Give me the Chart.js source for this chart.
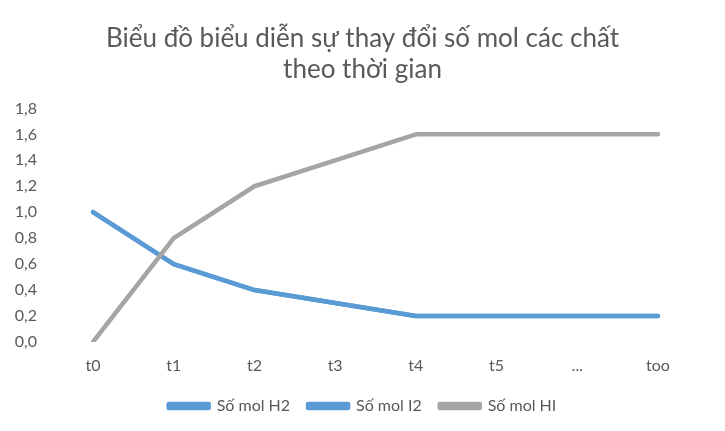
<!DOCTYPE html>
<html>
<head>
<meta charset="utf-8">
<script src="https://cdn.jsdelivr.net/npm/chart.js@4"></script>
<style>
html,body{margin:0;padding:0;background:#fff;}
#wrap{width:725px;height:431px;}
</style>
</head>
<body>
<div id="wrap"><canvas id="c" width="725" height="431"></canvas></div>
<script>
const categories = ["t0","t1","t2","t3","t4","t5","...","too"];
const molH2 = [1.0, 0.6, 0.4, 0.3, 0.2, 0.2, 0.2, 0.2];
const molI2 = [1.0, 0.6, 0.4, 0.3, 0.2, 0.2, 0.2, 0.2];
const molHI = [0.0, 0.8, 1.2, 1.4, 1.6, 1.6, 1.6, 1.6];
const seriesNames = ["Số mol H2","Số mol I2","Số mol HI"];
const titleLines = ["Biểu đồ biểu diễn sự thay đổi số mol các chất","theo thời gian"];

const BLUE = "#5B9BD5", GRAY = "#A5A5A5", TXT = "#595959";
const FONT = "Lato";

function ds(label, data, color, order){
  return {label, data, borderColor: color, backgroundColor: color, borderWidth: 4.5,
    pointRadius: 0, pointHoverRadius: 0, tension: 0, borderCapStyle: 'round',
    borderJoinStyle: 'round', order, yAxisID: 'y'};
}

new Chart(document.getElementById('c'), {
  type: 'line',
  data: {
    labels: categories,
    datasets: [
      ds(seriesNames[0], molH2, BLUE, 2),
      ds(seriesNames[1], molI2, BLUE, 1),
      ds(seriesNames[2], molHI, GRAY, 0)
    ]
  },
  options: {
    responsive: false,
    animation: false,
    layout: {padding: {left: 0, right: 0, top: 0, bottom: 7}},
    plugins: {
      tooltip: {enabled: false},
      title: {
        display: true, text: titleLines, color: TXT,
        font: {family: FONT, size: 26, weight: 'normal', lineHeight: 1.2},
        padding: {top: 23, bottom: 23}
      },
      legend: {
        position: 'bottom',
        labels: {
          color: TXT, font: {family: FONT, size: 16},
          boxWidth: 40, boxHeight: 4, padding: 18,
          sort: (a, b) => a.datasetIndex - b.datasetIndex
        }
      }
    },
    scales: {
      x: {
        offset: false,
        grid: {display: false, drawTicks: false},
        border: {display: false},
        ticks: {color: TXT, font: {family: FONT, size: 16}, padding: 14, maxRotation: 0, autoSkip: false},
        afterFit: s => { s.height = 38; }
      },
      y: {
        min: 0, max: 1.8,
        grid: {display: false, drawTicks: false},
        border: {display: false},
        ticks: {
          stepSize: 0.2, color: TXT, font: {family: FONT, size: 16}, padding: 56,
          callback: v => v.toFixed(1).replace('.', ',')
        },
        afterFit: s => { s.width = 93; }
      },
      y2: {
        type: 'linear', position: 'right', display: true,
        grid: {display: false, drawTicks: false},
        border: {display: false},
        ticks: {display: false},
        afterFit: s => { s.width = 67; }
      }
    }
  }
});
</script>
</body>
</html>
